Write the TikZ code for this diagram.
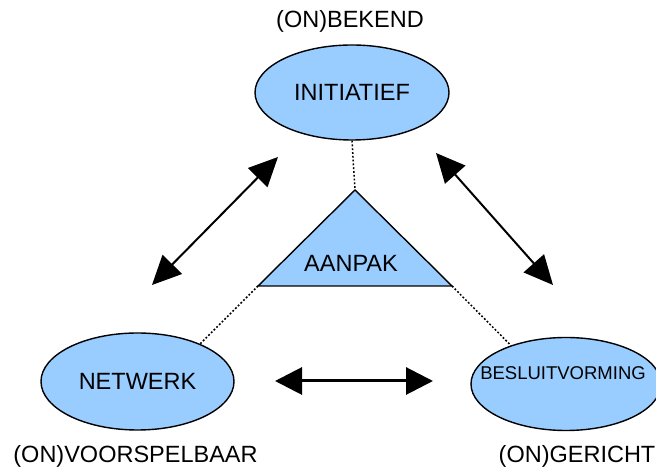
\documentclass[tikz,border=0pt]{standalone}
\usepackage{fontspec}
\setmainfont{Liberation Sans}
\usetikzlibrary{shapes.geometric,arrows.meta}
\definecolor{lblue}{RGB}{153,204,255}
\begin{document}
\begin{tikzpicture}[x=1pt,y=1pt,
  ell/.style={ellipse,draw=black,line width=1.4pt,fill=lblue,inner sep=0pt,font=\fontsize{23.5}{27}\selectfont},
  lbl/.style={inner sep=0pt,font=\fontsize{23.5}{27}\selectfont},
  dotline/.style={line width=1.5pt,dash pattern=on 1.8pt off 2pt},
  dbl/.style={line width=2pt,{Triangle[length=29pt,width=27pt]}-{Triangle[length=29pt,width=27pt]}}
]
\useasboundingbox (0,0) rectangle (656,468);
\clip (0,0) rectangle (656,468);
% ellipses
\node[ell,minimum width=194pt,minimum height=95pt] (ini) at (352,375.5) {INITIATIEF};
\node[ell,minimum width=193pt,minimum height=97pt] (net) at (137.5,86.5) {NETWERK};
\node[ell,minimum width=190pt,minimum height=93pt] (bes) at (566,84) {};
\node[inner sep=0pt,font=\fontsize{18.5}{22}\selectfont] (bestxt) at ([xshift=-3pt,yshift=11pt]bes.center) {BESLUITVORMING};
% triangle
\coordinate (apex) at (355,278);
\coordinate (bl) at (258,182);
\coordinate (br) at (452,182);
\filldraw[fill=lblue,draw=black,line width=1.4pt,line join=miter] (apex) -- (bl) -- (br) -- cycle;
\node[lbl] (aan) at (351,205) {AANPAK};
% dotted connectors
\draw[dotline] (ini.south) -- (apex);
\draw[dotline] (bl) -- (net.31);
\draw[dotline] (br) -- (bes.145);
% labels
\node[lbl] (bekend) at (350,447) {(ON)BEKEND};
\node[lbl] (voor) at (135.5,12) {(ON)VOORSPELBAAR};
\node[lbl] (ger) at (577,12) {(ON)GERICHT};
% arrows
\coordinate (la1) at (152,183);
\coordinate (la2) at (278,311);
\coordinate (ra1) at (436,315);
\coordinate (ra2) at (553,183);
\coordinate (ba1) at (275,87);
\coordinate (ba2) at (433,87);
\draw[dbl] (la1) -- (la2);
\draw[dbl] (ra1) -- (ra2);
\draw[dbl,line width=3pt,{Triangle[length=27pt,width=27pt]}-{Triangle[length=27pt,width=27pt]}] (ba1) -- (ba2);
\end{tikzpicture}
\end{document}
